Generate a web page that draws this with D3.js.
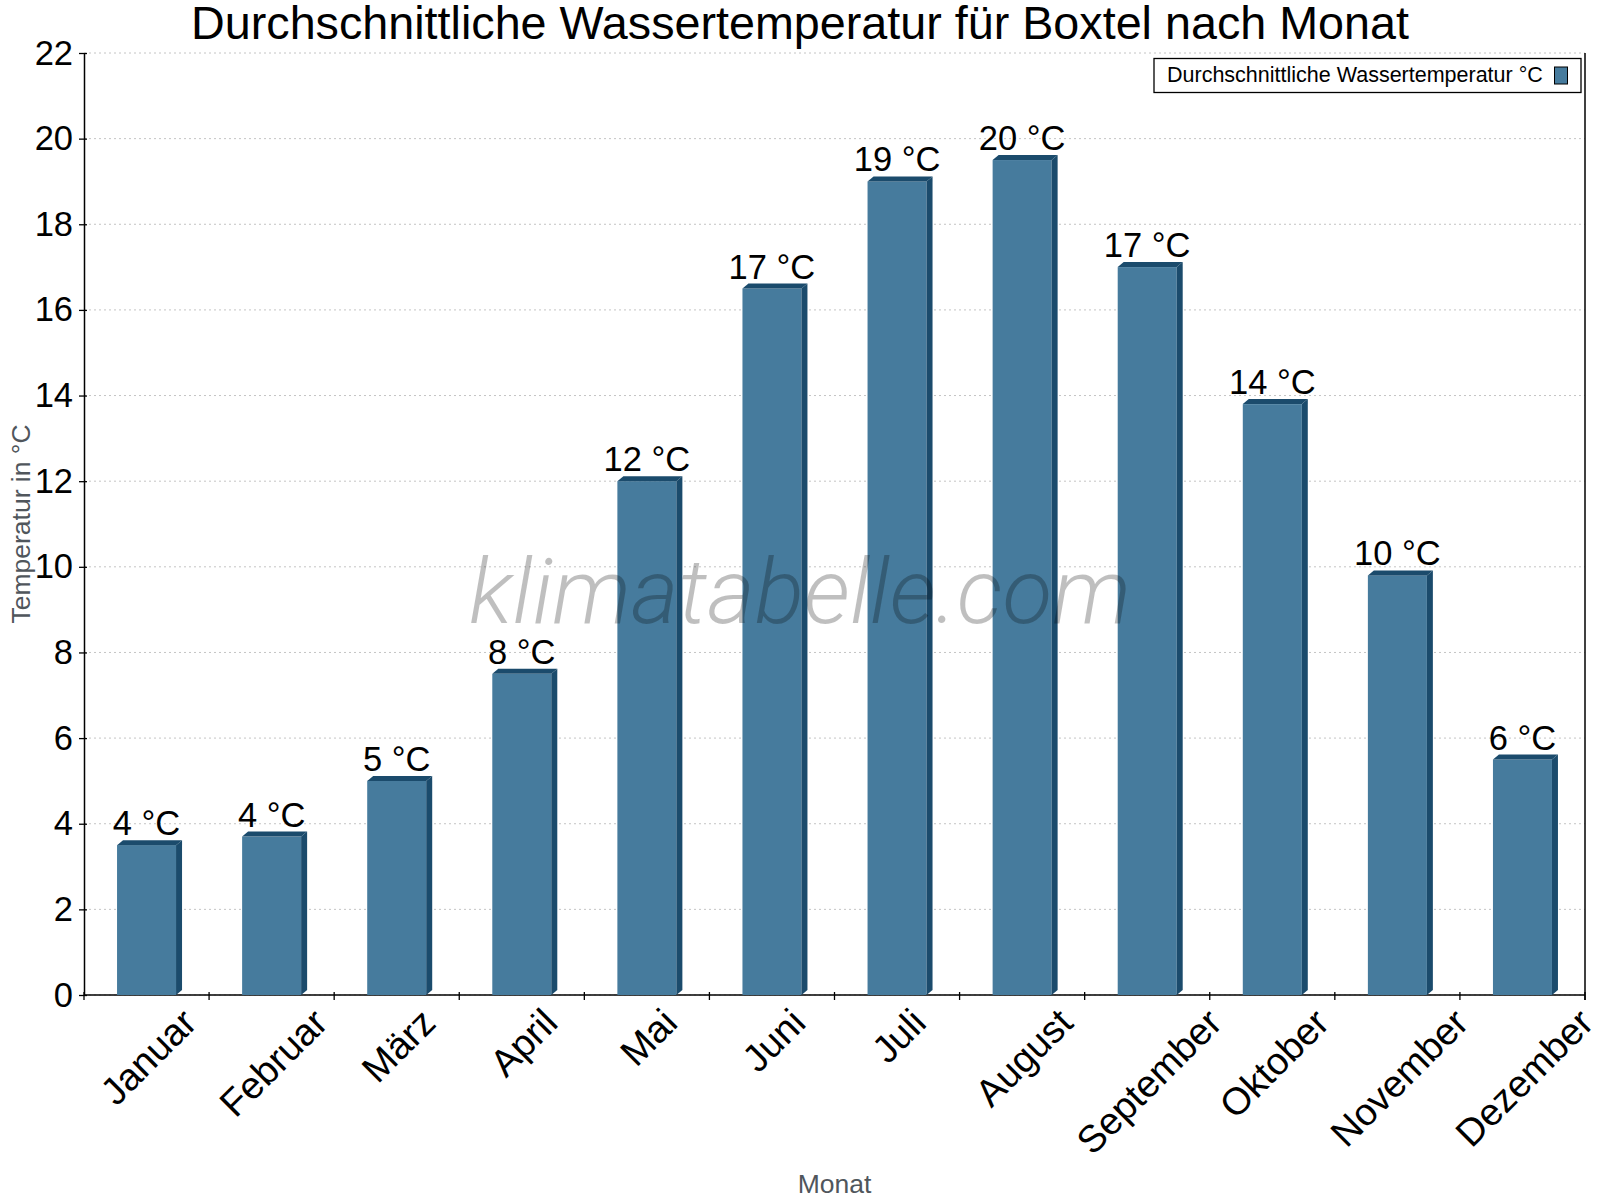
<!DOCTYPE html>
<html>
<head>
<meta charset="utf-8">
<script src="https://cdn.jsdelivr.net/npm/d3@7"></script>
<style>
  body { margin: 0; background: #fff; }
  svg text { font-family: "Liberation Sans", Arial, sans-serif; }
</style>
</head>
<body>
<svg id="chart" width="1600" height="1200"></svg>
<script>
// data
const months = ["Januar", "Februar", "März", "April", "Mai", "Juni", "Juli", "August", "September", "Oktober", "November", "Dezember"];
const temps = [3.5, 3.7, 5.0, 7.5, 12.0, 16.5, 19.0, 19.5, 17.0, 13.8, 9.8, 5.5];
const labelTemps = [4, 4, 5, 8, 12, 17, 19, 20, 17, 14, 10, 6];
const yTicks = [0, 2, 4, 6, 8, 10, 12, 14, 16, 18, 20, 22];

const svg = d3.select("#chart");
const plotLeft = 84, plotRight = 1585, plotTop = 53, plotBottom = 995;
const front = "#467b9d", dark = "#1b4b6c";
const barW = 59, dx = 6, dy = 5;

var x = d3.scaleBand()
  .domain(months)
  .range([plotLeft, plotRight]);

var y = d3.scaleLinear()
  .domain([0, 22])
  .range([plotBottom, plotTop]);

// title
svg.append("text")
  .attr("x", 800).attr("y", 39)
  .attr("text-anchor", "middle")
  .style("font-size", "46.7px")
  .text("Durchschnittliche Wassertemperatur für Boxtel nach Monat");

// gridlines
svg.append("g")
  .selectAll("line")
  .data(yTicks)
  .enter().append("line")
  .attr("x1", plotLeft).attr("x2", plotRight)
  .attr("y1", d => y(d)).attr("y2", d => y(d))
  .style("stroke", "#c4c4c4")
  .style("stroke-dasharray", "2,3");

// y axis
const gy = svg.append("g")
  .attr("transform", `translate(${plotLeft},0)`)
  .call(d3.axisLeft(y).tickValues(yTicks).tickSizeInner(5).tickSizeOuter(0).tickPadding(6));
gy.select(".domain").attr("stroke", "#000").attr("stroke-width", 1.5);
gy.selectAll(".tick line").attr("x1", 3).attr("stroke-width", 1.3);
gy.selectAll(".tick text").style("font-size", "34.5px").attr("fill", "#000")
  .style("font-family", "'Liberation Sans', Arial, sans-serif");

// right border line
svg.append("line")
  .attr("x1", plotRight).attr("x2", plotRight)
  .attr("y1", plotTop).attr("y2", plotBottom + 5)
  .style("stroke", "#000").style("stroke-width", 1.5);

// x axis line + ticks at band boundaries
svg.append("line")
  .attr("x1", plotLeft).attr("x2", plotRight)
  .attr("y1", plotBottom).attr("y2", plotBottom)
  .style("stroke", "#000").style("stroke-width", 1.5);
const bounds = months.map(m => x(m)).concat([plotRight]);
svg.append("g")
  .selectAll("line")
  .data(bounds)
  .enter().append("line")
  .attr("x1", d => d).attr("x2", d => d)
  .attr("y1", plotBottom - 3).attr("y2", plotBottom + 5)
  .style("stroke", "#000").style("stroke-width", 1.3);

// bars (pseudo 3D)
const bars = svg.append("g")
  .selectAll("g")
  .data(months.map((m, i) => ({ m: m, v: temps[i], l: labelTemps[i] })))
  .enter().append("g");

const cx = d => x(d.m) + x.bandwidth() / 2;
const x0 = d => cx(d) - barW / 2;

bars.append("rect")
  .attr("x", x0)
  .attr("y", d => y(d.v))
  .attr("width", barW)
  .attr("height", d => plotBottom - y(d.v))
  .style("fill", front);

bars.append("path")
  .attr("d", d => {
    const a = x0(d), t = y(d.v);
    return `M${a},${t}L${a + dx},${t - dy}L${a + barW + dx},${t - dy}L${a + barW},${t}Z`;
  })
  .style("fill", dark);

bars.append("path")
  .attr("d", d => {
    const a = x0(d) + barW, t = y(d.v);
    return `M${a},${t}L${a + dx},${t - dy}L${a + dx},${plotBottom - dy}L${a},${plotBottom}Z`;
  })
  .style("fill", dark);

bars.append("text")
  .attr("x", cx)
  .attr("y", d => y(d.v) - 10)
  .attr("text-anchor", "middle")
  .style("font-size", "34.5px")
  .text(d => d.l + " °C");

// x labels rotated: box centred on the band, top edge at a fixed height
svg.append("g")
  .selectAll("text")
  .data(months)
  .enter().append("text")
  .attr("text-anchor", "middle")
  .style("font-size", "38px")
  .text(d => d)
  .each(function(d) {
    const len = this.getComputedTextLength();
    const ay = 1012 + len * Math.SQRT1_2 / 2 + 13;
    d3.select(this).attr("transform", `translate(${x(d) + x.bandwidth() / 2 + 11},${ay}) rotate(-45)`);
  });

// axis titles
svg.append("text")
  .attr("transform", `translate(30,${(plotTop + plotBottom) / 2}) rotate(-90)`)
  .attr("text-anchor", "middle")
  .style("font-size", "26.5px")
  .style("fill", "#50565c")
  .text("Temperatur in °C");

svg.append("text")
  .attr("x", (plotLeft + plotRight) / 2).attr("y", 1193)
  .attr("text-anchor", "middle")
  .style("font-size", "26.5px")
  .style("fill", "#50565c")
  .text("Monat");

// legend
const lg = svg.append("g");
lg.append("rect")
  .attr("x", 1154).attr("y", 58.5)
  .attr("width", 427).attr("height", 34)
  .style("fill", "#fff").style("stroke", "#000").style("stroke-width", 1.3);
lg.append("text")
  .attr("x", 1167).attr("y", 82)
  .style("font-size", "21.5px")
  .text("Durchschnittliche Wassertemperatur °C");
lg.append("rect")
  .attr("x", 1554.5).attr("y", 67)
  .attr("width", 13).attr("height", 17)
  .style("fill", front).style("stroke", "#000").style("stroke-width", 1);

// watermark
svg.append("text")
  .attr("x", 800).attr("y", 623)
  .attr("text-anchor", "middle")
  .style("font-family", "Roboto, sans-serif")
  .style("font-style", "italic")
  .style("font-weight", 300)
  .style("font-size", "91.5px")
  .style("fill", "rgba(0,0,0,0.25)")
  .text("klimatabelle.com");
</script>
</body>
</html>
